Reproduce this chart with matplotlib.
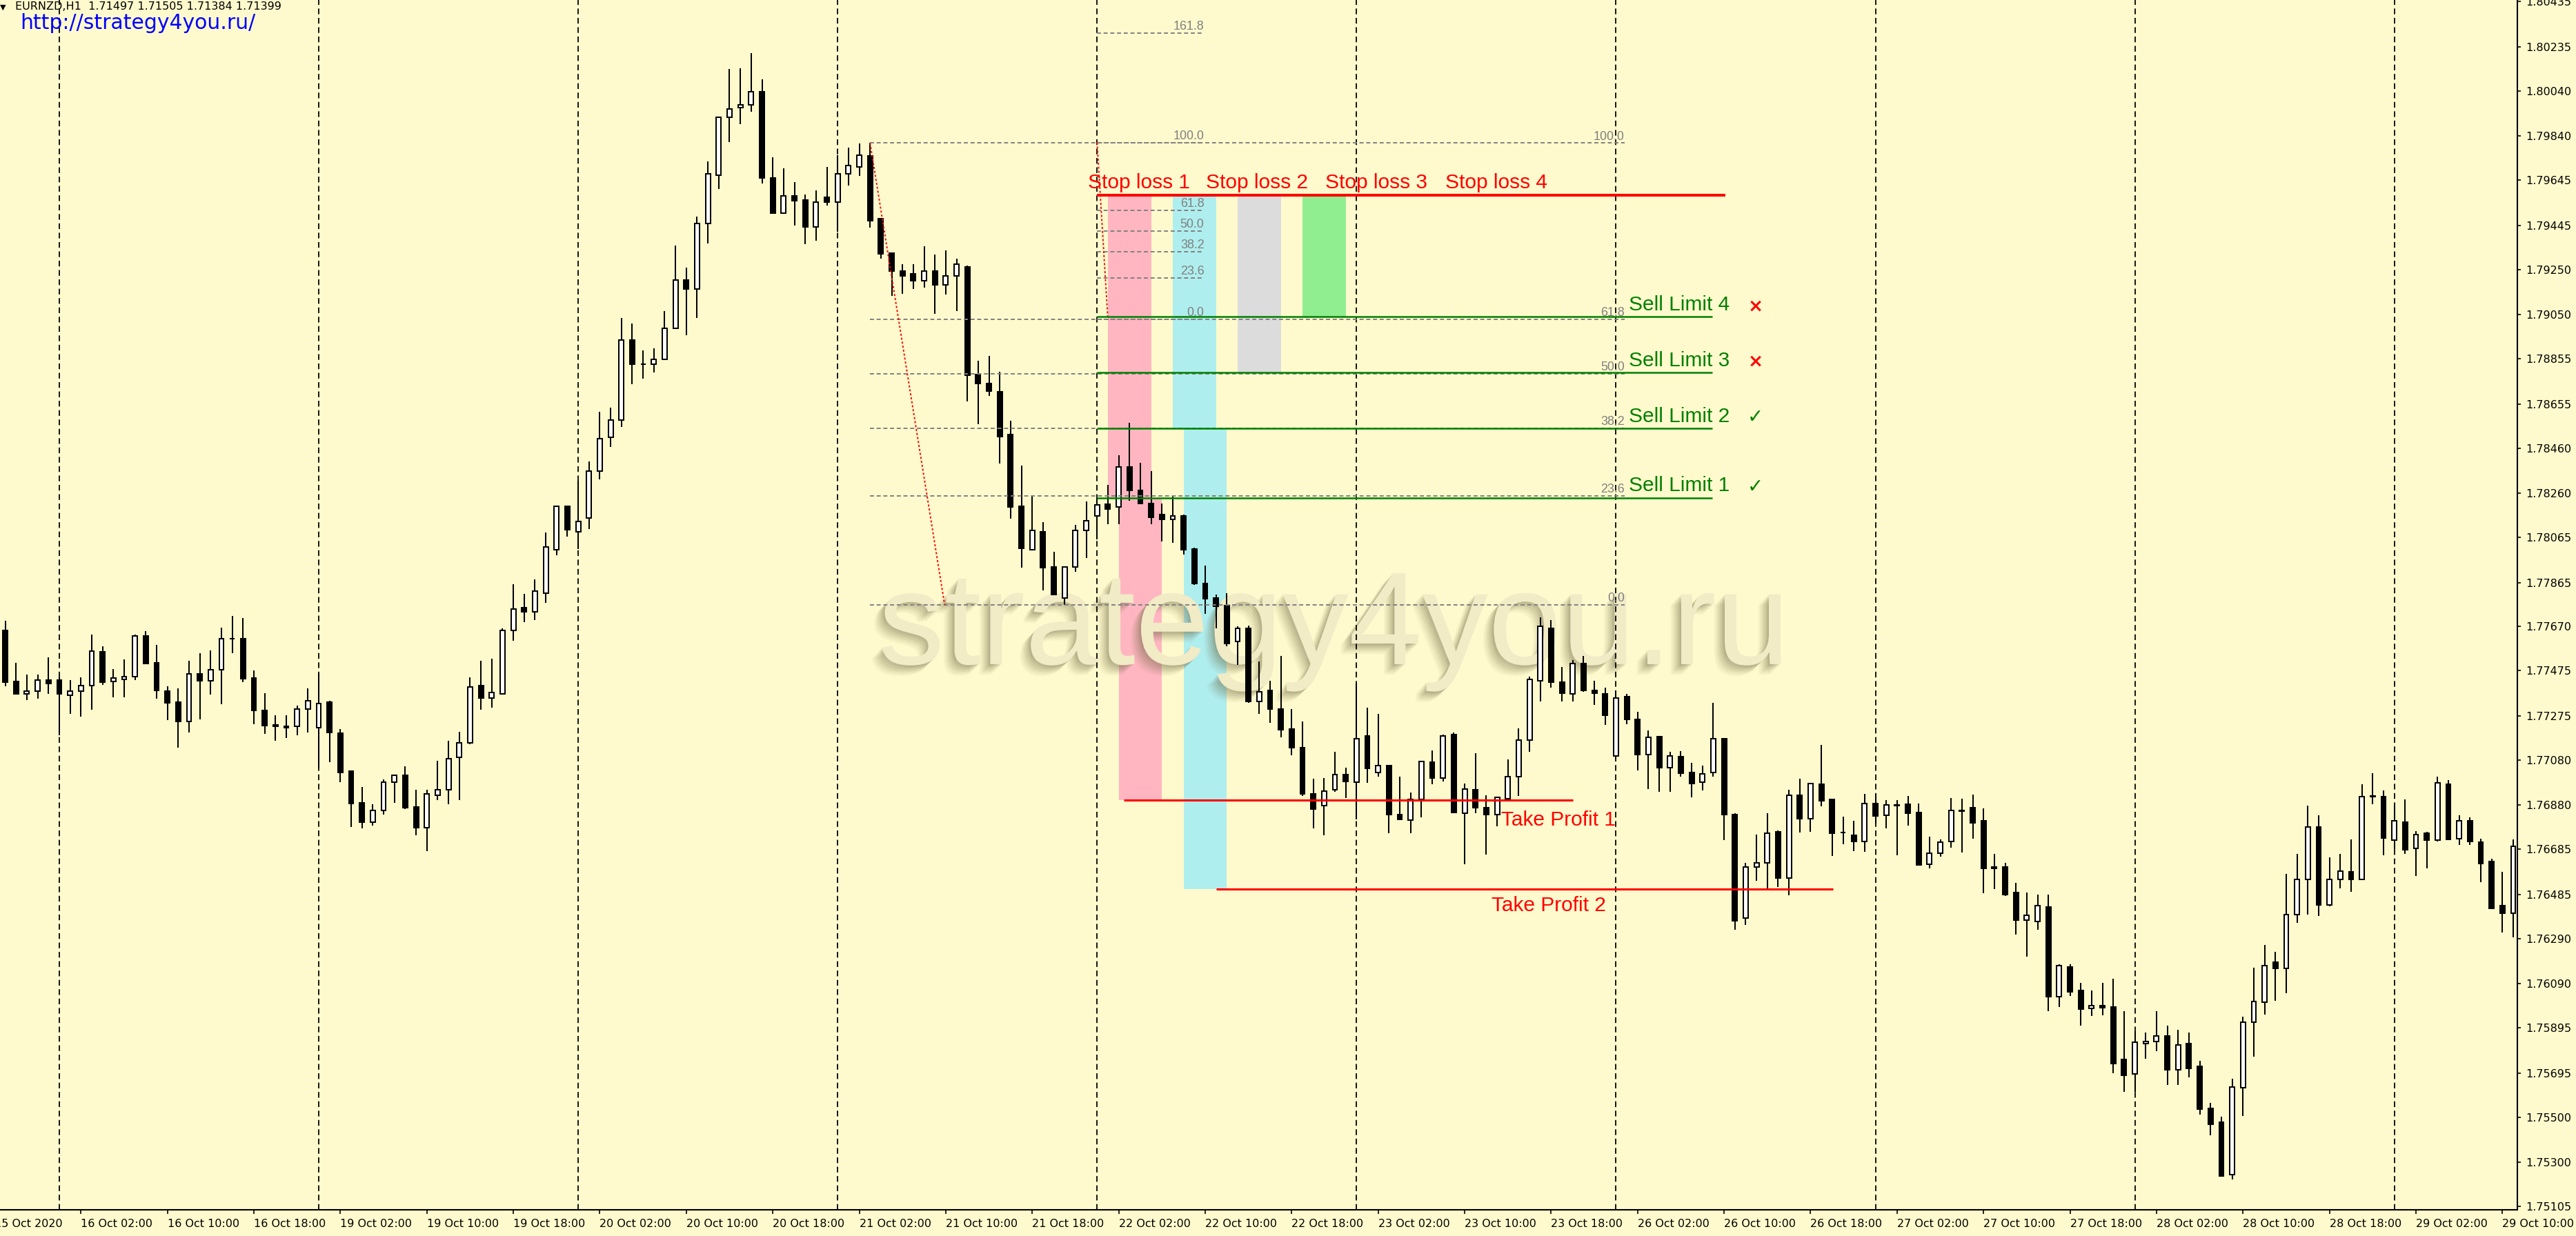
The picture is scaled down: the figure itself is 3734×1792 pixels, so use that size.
import matplotlib
matplotlib.use("Agg")
import matplotlib.pyplot as plt
import matplotlib.patheffects as pe
import matplotlib.transforms as mtransforms
from matplotlib.patches import Rectangle
import numpy as np

BG = "#FFFACD"

# ---------------- data: EURNZD H1 candles ----------------
opens = [
    1.77654, 1.77427, 1.77373, 1.77384, 1.77432, 1.77432, 1.77366, 1.77384, 1.77408, 1.77558,
    1.77426, 1.77437, 1.77449, 1.77629, 1.77510, 1.77384, 1.77336, 1.77251, 1.77461, 1.77431,
    1.77479, 1.77616, 1.77617, 1.77444, 1.77300, 1.77236, 1.77230, 1.77228, 1.77305, 1.77222,
    1.77336, 1.77198, 1.77032, 1.76890, 1.76805, 1.76857, 1.76983, 1.77013, 1.76871, 1.76779,
    1.76924, 1.76947, 1.77091, 1.77155, 1.77409, 1.77353, 1.77373, 1.77653, 1.77754, 1.77734,
    1.77817, 1.78010, 1.78202, 1.78089, 1.78149, 1.78358, 1.78507, 1.78584, 1.78939, 1.78830,
    1.78830, 1.78852, 1.78989, 1.79202, 1.79165, 1.79453, 1.79667, 1.79923, 1.79965, 1.79977,
    1.80035, 1.79655, 1.79500, 1.79575, 1.79558, 1.79438, 1.79570, 1.79547, 1.79672, 1.79704,
    1.79751, 1.79475, 1.79321, 1.79244, 1.79232, 1.79200, 1.79242, 1.79181, 1.79223, 1.79260,
    1.78786, 1.78744, 1.78709, 1.78520, 1.78202, 1.78009, 1.78090, 1.77934, 1.77796, 1.77934,
    1.78096, 1.78160, 1.78212, 1.78198, 1.78376, 1.78272, 1.78216, 1.78167, 1.78145, 1.78160,
    1.78013, 1.77861, 1.77798, 1.77763, 1.77605, 1.77663, 1.77340, 1.77389, 1.77305, 1.77217,
    1.77133, 1.76930, 1.76877, 1.76948, 1.77014, 1.76983, 1.77186, 1.77025, 1.77056, 1.76839,
    1.76815, 1.76905, 1.77070, 1.77000, 1.77192, 1.76846, 1.76947, 1.76870, 1.76839, 1.76909,
    1.77007, 1.77168, 1.77431, 1.77663, 1.77424, 1.77371, 1.77507, 1.77389, 1.77371, 1.77098,
    1.77360, 1.77259, 1.77105, 1.77182, 1.77046, 1.77095, 1.77025, 1.76983, 1.77024, 1.77175,
    1.76839, 1.76380, 1.76605, 1.76624, 1.76762, 1.76559, 1.76923, 1.76821, 1.76972, 1.76905,
    1.76759, 1.76748, 1.76719, 1.76887, 1.76834, 1.76880, 1.76883, 1.76847, 1.76618, 1.76667,
    1.76719, 1.76858, 1.76870, 1.76811, 1.76606, 1.76606, 1.76495, 1.76371, 1.76366, 1.76429,
    1.76033, 1.76164, 1.76059, 1.75980, 1.75994, 1.75987, 1.75754, 1.75692, 1.75824, 1.75836,
    1.75860, 1.75709, 1.75826, 1.75725, 1.75538, 1.75479, 1.75245, 1.75631, 1.75919, 1.76009,
    1.76184, 1.76157, 1.76397, 1.76553, 1.76782, 1.76438, 1.76553, 1.76585, 1.76552, 1.76919,
    1.76919, 1.76726, 1.76805, 1.76690, 1.76757, 1.76726, 1.76973, 1.76733, 1.76811, 1.76717,
    1.76632, 1.76436, 1.76402,
]
highs = [
    1.77696, 1.77511, 1.77457, 1.77457, 1.77534, 1.77447, 1.77434, 1.77445, 1.77635, 1.77583,
    1.77481, 1.77524, 1.77635, 1.77649, 1.77589, 1.77405, 1.77398, 1.77518, 1.77553, 1.77564,
    1.77666, 1.77716, 1.77708, 1.77475, 1.77374, 1.77277, 1.77277, 1.77320, 1.77397, 1.77463,
    1.77343, 1.77218, 1.77035, 1.76961, 1.76883, 1.76995, 1.77015, 1.77051, 1.76949, 1.76949,
    1.77076, 1.77165, 1.77206, 1.77445, 1.77518, 1.77529, 1.77663, 1.77859, 1.77814, 1.77879,
    1.78085, 1.78202, 1.78202, 1.78315, 1.78400, 1.78621, 1.78638, 1.79034, 1.79011, 1.78892,
    1.78902, 1.79065, 1.79357, 1.79257, 1.79483, 1.79729, 1.79923, 1.80136, 1.80141, 1.80206,
    1.80091, 1.79746, 1.79697, 1.79637, 1.79583, 1.79600, 1.79704, 1.79756, 1.79788, 1.79806,
    1.79809, 1.79475, 1.79321, 1.79274, 1.79274, 1.79354, 1.79316, 1.79333, 1.79298, 1.79267,
    1.78845, 1.78868, 1.78796, 1.78580, 1.78383, 1.78251, 1.78132, 1.78002, 1.77934, 1.78121,
    1.78223, 1.78240, 1.78296, 1.78429, 1.78573, 1.78394, 1.78359, 1.78215, 1.78247, 1.78167,
    1.78018, 1.77941, 1.77813, 1.77819, 1.77670, 1.77675, 1.77515, 1.77431, 1.77539, 1.77305,
    1.77249, 1.76997, 1.77000, 1.77115, 1.77045, 1.77417, 1.77311, 1.77283, 1.77056, 1.77007,
    1.76937, 1.77073, 1.77122, 1.77192, 1.77203, 1.76976, 1.77109, 1.76923, 1.76919, 1.77084,
    1.77221, 1.77448, 1.77710, 1.77700, 1.77490, 1.77521, 1.77539, 1.77431, 1.77399, 1.77389,
    1.77371, 1.77294, 1.77210, 1.77185, 1.77115, 1.77119, 1.77066, 1.77056, 1.77333, 1.77175,
    1.76843, 1.76624, 1.76750, 1.76843, 1.76769, 1.76947, 1.76997, 1.76979, 1.77147, 1.76909,
    1.76829, 1.76811, 1.76930, 1.76930, 1.76901, 1.76901, 1.76920, 1.76887, 1.76740, 1.76729,
    1.76913, 1.76909, 1.76926, 1.76865, 1.76664, 1.76625, 1.76537, 1.76495, 1.76484, 1.76484,
    1.76177, 1.76177, 1.76095, 1.76059, 1.76095, 1.76112, 1.75970, 1.75879, 1.75875, 1.75970,
    1.75904, 1.75886, 1.75875, 1.75749, 1.75562, 1.75502, 1.75670, 1.75944, 1.76160, 1.76263,
    1.76232, 1.76577, 1.76664, 1.76877, 1.76834, 1.76649, 1.76664, 1.76729, 1.76973, 1.77021,
    1.76945, 1.76887, 1.76906, 1.76765, 1.76762, 1.77005, 1.76991, 1.76834, 1.76825, 1.76731,
    1.76642, 1.76585, 1.76729,
]
lows = [
    1.77405, 1.77371, 1.77346, 1.77351, 1.77371, 1.77190, 1.77285, 1.77272, 1.77303, 1.77412,
    1.77356, 1.77356, 1.77434, 1.77507, 1.77351, 1.77256, 1.77134, 1.77202, 1.77261, 1.77369,
    1.77326, 1.77553, 1.77424, 1.77237, 1.77196, 1.77166, 1.77178, 1.77190, 1.77202, 1.77046,
    1.77070, 1.76981, 1.76783, 1.76778, 1.76789, 1.76837, 1.76891, 1.76862, 1.76748, 1.76677,
    1.76903, 1.76885, 1.76903, 1.77149, 1.77303, 1.77310, 1.77371, 1.77608, 1.77690, 1.77700,
    1.77776, 1.77985, 1.78068, 1.78013, 1.78102, 1.78320, 1.78465, 1.78554, 1.78743, 1.78767,
    1.78793, 1.78852, 1.78989, 1.78959, 1.79036, 1.79366, 1.79605, 1.79814, 1.79893, 1.79948,
    1.79629, 1.79495, 1.79500, 1.79445, 1.79361, 1.79378, 1.79533, 1.79416, 1.79622, 1.79664,
    1.79436, 1.79299, 1.79134, 1.79143, 1.79164, 1.79169, 1.79055, 1.79139, 1.79066, 1.78667,
    1.78565, 1.78691, 1.78391, 1.78146, 1.77932, 1.78009, 1.77831, 1.77813, 1.77766, 1.77913,
    1.77974, 1.78055, 1.78124, 1.78124, 1.78226, 1.78215, 1.78124, 1.78047, 1.78041, 1.77988,
    1.77855, 1.77726, 1.77661, 1.77584, 1.77500, 1.77333, 1.77283, 1.77245, 1.77179, 1.77101,
    1.76920, 1.76778, 1.76748, 1.76940, 1.76913, 1.76818, 1.76979, 1.77007, 1.76755, 1.76815,
    1.76755, 1.76825, 1.76972, 1.76986, 1.76843, 1.76619, 1.76843, 1.76661, 1.76787, 1.76909,
    1.76920, 1.77116, 1.77340, 1.77399, 1.77340, 1.77340, 1.77382, 1.77325, 1.77235, 1.77087,
    1.77238, 1.77035, 1.76951, 1.76940, 1.76940, 1.77007, 1.76916, 1.76944, 1.77007, 1.76727,
    1.76330, 1.76350, 1.76545, 1.76509, 1.76517, 1.76482, 1.76759, 1.76762, 1.76874, 1.76654,
    1.76706, 1.76678, 1.76675, 1.76798, 1.76776, 1.76657, 1.76789, 1.76616, 1.76599, 1.76652,
    1.76693, 1.76671, 1.76733, 1.76491, 1.76508, 1.76477, 1.76307, 1.76210, 1.76328, 1.75970,
    1.75987, 1.76037, 1.75905, 1.75947, 1.75951, 1.75695, 1.75613, 1.75613, 1.75757, 1.75793,
    1.75641, 1.75641, 1.75677, 1.75512, 1.75421, 1.75235, 1.75224, 1.75505, 1.75768, 1.75954,
    1.76016, 1.76049, 1.76359, 1.76395, 1.76390, 1.76433, 1.76513, 1.76498, 1.76552, 1.76884,
    1.76657, 1.76685, 1.76664, 1.76567, 1.76599, 1.76719, 1.76726, 1.76704, 1.76704, 1.76539,
    1.76419, 1.76318, 1.76294,
]
closes = [
    1.77424, 1.77371, 1.77384, 1.77432, 1.77419, 1.77371, 1.77384, 1.77408, 1.77563, 1.77424,
    1.77443, 1.77449, 1.77629, 1.77507, 1.77388, 1.77333, 1.77251, 1.77461, 1.77431, 1.77479,
    1.77616, 1.77616, 1.77441, 1.77298, 1.77233, 1.77228, 1.77222, 1.77305, 1.77343, 1.77330,
    1.77202, 1.77024, 1.76886, 1.76804, 1.76857, 1.76983, 1.77012, 1.76868, 1.76779, 1.76929,
    1.76949, 1.77086, 1.77155, 1.77402, 1.77353, 1.77378, 1.77653, 1.77749, 1.77734, 1.77826,
    1.78023, 1.78202, 1.78099, 1.78135, 1.78358, 1.78500, 1.78584, 1.78939, 1.78830, 1.78830,
    1.78852, 1.78989, 1.79202, 1.79165, 1.79453, 1.79672, 1.79923, 1.79960, 1.79977, 1.80035,
    1.79654, 1.79500, 1.79575, 1.79553, 1.79438, 1.79547, 1.79547, 1.79672, 1.79709, 1.79756,
    1.79466, 1.79319, 1.79242, 1.79223, 1.79200, 1.79242, 1.79181, 1.79223, 1.79274, 1.78782,
    1.78744, 1.78713, 1.78510, 1.78198, 1.78016, 1.78096, 1.77932, 1.77813, 1.77934, 1.78096,
    1.78138, 1.78209, 1.78191, 1.78376, 1.78272, 1.78215, 1.78153, 1.78145, 1.78160, 1.78009,
    1.77862, 1.77794, 1.77761, 1.77595, 1.77663, 1.77339, 1.77382, 1.77305, 1.77214, 1.77133,
    1.76930, 1.76863, 1.76941, 1.77014, 1.76986, 1.77175, 1.77042, 1.77056, 1.76839, 1.76818,
    1.76905, 1.77073, 1.77000, 1.77186, 1.76849, 1.76951, 1.76870, 1.76839, 1.76916, 1.77007,
    1.77168, 1.77437, 1.77670, 1.77423, 1.77375, 1.77507, 1.77388, 1.77375, 1.77277, 1.77353,
    1.77259, 1.77105, 1.77179, 1.77046, 1.77098, 1.77021, 1.76976, 1.77018, 1.77175, 1.76839,
    1.76370, 1.76605, 1.76624, 1.76755, 1.76559, 1.76923, 1.76821, 1.76975, 1.76899, 1.76755,
    1.76759, 1.76720, 1.76887, 1.76832, 1.76880, 1.76877, 1.76844, 1.76616, 1.76667, 1.76717,
    1.76858, 1.76855, 1.76803, 1.76599, 1.76599, 1.76484, 1.76371, 1.76393, 1.76436, 1.76033,
    1.76171, 1.76055, 1.75977, 1.75994, 1.75984, 1.75738, 1.75685, 1.75831, 1.75836, 1.75860,
    1.75709, 1.75818, 1.75716, 1.75536, 1.75469, 1.75241, 1.75634, 1.75919, 1.76011, 1.76171,
    1.76157, 1.76397, 1.76553, 1.76782, 1.76438, 1.76553, 1.76589, 1.76552, 1.76919, 1.76919,
    1.76736, 1.76811, 1.76683, 1.76750, 1.76726, 1.76978, 1.76729, 1.76811, 1.76719, 1.76623,
    1.76423, 1.76402, 1.76697,
]

x_labels = [
    "16 Oct 02:00", "16 Oct 10:00", "16 Oct 18:00", "19 Oct 02:00", "19 Oct 10:00", "19 Oct 18:00",
    "20 Oct 02:00", "20 Oct 10:00", "20 Oct 18:00", "21 Oct 02:00", "21 Oct 10:00", "21 Oct 18:00",
    "22 Oct 02:00", "22 Oct 10:00", "22 Oct 18:00", "23 Oct 02:00", "23 Oct 10:00", "23 Oct 18:00",
    "26 Oct 02:00", "26 Oct 10:00", "26 Oct 18:00", "27 Oct 02:00", "27 Oct 10:00", "27 Oct 18:00",
    "28 Oct 02:00", "28 Oct 10:00", "28 Oct 18:00", "29 Oct 02:00", "29 Oct 10:00",
]
first_label = "15 Oct 2020"
y_ticks = [
    1.80435, 1.80235, 1.80040, 1.79840, 1.79645, 1.79445, 1.79250, 1.79050, 1.78855, 1.78655,
    1.78460, 1.78260, 1.78065, 1.77865, 1.77670, 1.77475, 1.77275, 1.77080, 1.76880, 1.76685,
    1.76485, 1.76290, 1.76090, 1.75895, 1.75695, 1.75500, 1.75300, 1.75105,
]

# trade levels
stop_loss = 1.79578
sell_limits = [1.78240, 1.78548, 1.78795, 1.79040]
sell_marks = ["✓", "✓", "×", "×"]
take_profits = [1.76903, 1.76508]
fib1_hi, fib1_lo = 1.79809, 1.77766
fib2_hi, fib2_lo = 1.79811, 1.79028
fib1_levels = [0.0, 23.6, 38.2, 50.0, 61.8, 100.0]
fib2_levels = [0.0, 23.6, 38.2, 50.0, 61.8, 100.0, 161.8]

header = "EURNZD,H1  1.71497 1.71505 1.71384 1.71399"
url = "http://strategy4you.ru/"
watermark = "strategy4you.ru"

# ---------------- figure ----------------
W, H = 3734, 1792
fig = plt.figure(figsize=(W / 100, H / 100), dpi=100, facecolor=BG)
ax = fig.add_axes([0, 38 / H, 3649 / W, 1754 / H], facecolor=BG)
ax.set_xlim(-0.485, 232.38)
ax.set_ylim(1.75090, 1.80442)

o = np.array(opens); hi = np.array(highs); lo = np.array(lows); c = np.array(closes)
x = np.arange(len(o))
up = c >= o

# vertical dashed grid
for b in range(5, len(o), 24):
    ax.axvline(b, color="black", lw=1.3, ls=(0, (4.6, 2.9)), zorder=1)

# zone rectangles (SL / TP zones)
zones = [
    (102.0, stop_loss, sell_limits[0], "#FFB6C1"),
    (103.0, sell_limits[0], take_profits[0], "#FFB6C1"),
    (108.0, stop_loss, sell_limits[1], "#AFEEEE"),
    (109.0, sell_limits[1], take_profits[1], "#AFEEEE"),
    (114.0, stop_loss, sell_limits[2], "#DCDCDC"),
    (120.0, stop_loss, sell_limits[3], "#90EE90"),
]
for x0, ytop, ybot, col in zones:
    ax.add_patch(Rectangle((x0, ybot), 4.0, ytop - ybot, facecolor=col, edgecolor="none", zorder=0.6))

# watermark (embossed look: soft dark shadow + light fill)
shadow_fx = []
for (dx, dy, a) in [(-11, -11, 0.06), (-9, -9, 0.08), (-7, -7, 0.10), (-5, -5, 0.12),
                    (-3, -3, 0.14), (-1.5, -1.5, 0.14)]:
    shadow_fx.append(pe.SimplePatchShadow(offset=(dx, dy), shadow_rgbFace="#6e6844", alpha=a))
shadow_fx.append(pe.Normal())
ax.text(122.9, 1.77504, watermark, fontsize=138, family="Liberation Sans", ha="center",
        va="baseline", color="#F1EBC6", zorder=0.8, path_effects=shadow_fx)

# candles
ax.vlines(x, lo, hi, color="black", lw=1.45, zorder=3)
bottoms = np.minimum(o, c)
heights = np.maximum(np.abs(c - o), 0.00001)
ax.bar(x, heights, bottom=bottoms, width=0.44, color=np.where(up, "white", "black"),
       edgecolor="black", linewidth=1.45, zorder=4)

# fibonacci 1
fib_col = "#808080"
for lv in fib1_levels:
    p = fib1_lo + (fib1_hi - fib1_lo) * lv / 100
    ax.hlines(p, 80, 149.8, colors=fib_col, linestyles=(0, (3, 2)), lw=1.4, zorder=5)
    ax.text(149.8, p + 0.00015, f"{lv:.1f}", fontsize=12.9, family="Liberation Sans",
            color=fib_col, ha="right", va="baseline", zorder=6)
ax.plot([80, 86.9], [fib1_hi, fib1_lo], color="red", lw=1.4, ls=(0, (1.5, 1.5)), zorder=5)

# fibonacci 2
for lv in fib2_levels:
    p = fib2_lo + (fib2_hi - fib2_lo) * lv / 100
    ax.hlines(p, 101.0, 110.9, colors=fib_col, linestyles=(0, (3, 2)), lw=1.4, zorder=5)
    ax.text(110.9, p + 0.00015, f"{lv:.1f}", fontsize=12.9, family="Liberation Sans",
            color=fib_col, ha="right", va="baseline", zorder=6)
ax.plot([101.0, 102.0], [fib2_hi, fib2_lo], color="red", lw=1.4, ls=(0, (1.5, 1.5)), zorder=5)

# stop loss line + labels
ax.hlines(stop_loss, 101.0, 159.1, colors="#FF0000", lw=2.9, zorder=5.5)
for k, xs in enumerate([100.15, 111.07, 122.1, 133.2]):
    ax.text(xs, 1.79609, f"Stop loss {k + 1}", fontsize=21.5, family="Liberation Sans",
            color="#FF0000", ha="left", va="baseline", zorder=6)

# sell limit lines + labels
for k, (lvl, mk) in enumerate(zip(sell_limits, sell_marks)):
    ax.hlines(lvl, 101.0, 157.9, colors="#008000", lw=1.8, zorder=5.5)
    ax.text(150.2, lvl + 0.00028, f"Sell Limit {k + 1}", fontsize=21.5, family="Liberation Sans",
            color="#008000", ha="left", va="baseline", zorder=6)
    if mk == "×":
        ax.text(161.9, lvl + 0.00047, mk, fontsize=19, fontweight="bold", family="DejaVu Sans",
                color="#FF0000", ha="center", va="center", zorder=6)
    else:
        ax.text(161.9, lvl + 0.00047, mk, fontsize=20, family="DejaVu Sans",
                color="#008000", ha="center", va="center", zorder=6)

# take profit lines + labels
ax.hlines(take_profits[0], 103.5, 145.0, colors="#FF0000", lw=2.2, zorder=5.5)
ax.hlines(take_profits[1], 112.0, 169.1, colors="#FF0000", lw=2.2, zorder=5.5)
ax.text(138.4, 1.76790, "Take Profit 1", fontsize=21.5, family="Liberation Sans",
        color="#FF0000", ha="left", va="baseline", zorder=6)
ax.text(137.5, 1.76410, "Take Profit 2", fontsize=21.5, family="Liberation Sans",
        color="#FF0000", ha="left", va="baseline", zorder=6)

# axes styling
for s in ["left", "top"]:
    ax.spines[s].set_visible(False)
for s in ["right", "bottom"]:
    ax.spines[s].set_linewidth(1.5)
    ax.spines[s].set_color("black")
    ax.spines[s].set_zorder(7)

ax.yaxis.tick_right()
ax.set_yticks(y_ticks)
ax.set_yticklabels([f"{v:.5f}" for v in y_ticks])
ax.tick_params(axis="y", direction="out", length=3.5, width=1.2, pad=5, labelsize=11.5,
               colors="black")

x_pos = list(range(7, len(o), 8))[:len(x_labels)]
ax.set_xticks(x_pos)
ax.set_xticklabels(x_labels)
ax.tick_params(axis="x", direction="out", length=4, width=1.2, pad=5, labelsize=11.5,
               colors="black")
for lbl in ax.get_xticklabels():
    lbl.set_horizontalalignment("left")

tr = mtransforms.offset_copy(ax.get_xaxis_transform(), fig=fig, y=-9, units="points")
ax.text(5.32, 0, first_label, transform=tr, ha="right", va="top", fontsize=11.5, clip_on=False)

# header texts
fig.text(0 / W, 1 - 14 / H, "▼", fontsize=8, va="baseline", ha="left", color="black")
fig.text(22 / W, 1 - 14 / H, header, fontsize=11.5, va="baseline", ha="left", color="black")
fig.text(29 / W, 1 - 42 / H, url, fontsize=21.5, va="baseline", ha="left", color="#0000FF")

fig.savefig("out.png", dpi=100, facecolor=BG)
